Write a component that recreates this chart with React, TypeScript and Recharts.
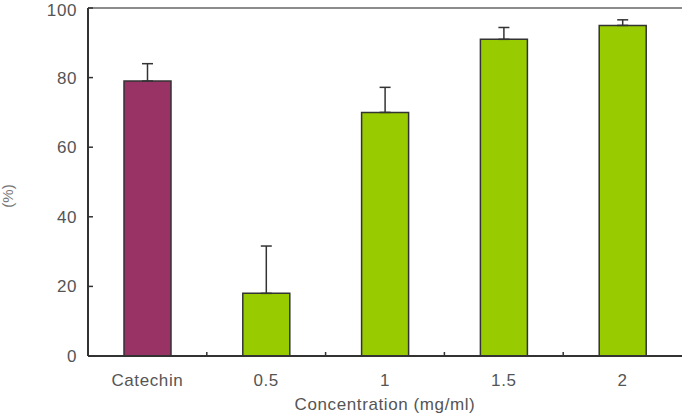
import React from 'react';
import {
  BarChart,
  Bar,
  Cell,
  XAxis,
  YAxis,
  ErrorBar,
  ReferenceLine,
} from 'recharts';

const categories = ['Catechin', '0.5', '1', '1.5', '2'];
const activity = [79, 18, 70, 91, 95];
const stdDev = [5, 13.6, 7.2, 3.4, 1.6];
const yTicks = [0, 20, 40, 60, 80, 100];

const PURPLE = '#993366';
const GREEN = '#99CC00';
const FONT = '"Liberation Sans", Arial, sans-serif';
const TEXT_COLOR = '#555';

const data = categories.map((name, i) => ({
  name,
  value: activity[i],
  // upward-only error bar
  err: [0, stdDev[i]],
}));

const tickStyle = { fontSize: 17, fill: TEXT_COLOR, fontFamily: FONT, letterSpacing: 0.6 };

// category label plus a short inward tick on the band boundary to its right
const CategoryTick = (props: any) => {
  const { x, y, payload, index } = props;
  const bx = x + (payload.offset || 0);
  return (
    <g>
      {index < categories.length - 1 && (
        <line x1={bx} y1={y - 18} x2={bx} y2={y - 22} stroke="#333" strokeWidth={1.5} />
      )}
      <text
        x={x}
        y={y}
        dy="0.71em"
        textAnchor="middle"
        fontSize={17}
        fill={TEXT_COLOR}
        fontFamily={FONT}
        letterSpacing={0.6}
      >
        {payload.value}
      </text>
    </g>
  );
};

const App: React.FC = () => {
  return (
    <div style={{ position: 'absolute', left: 0, top: 0, width: 686, height: 415, background: '#fff' }}>
      <BarChart
        width={686}
        height={415}
        data={data}
        margin={{ top: 8, right: 4, bottom: 0, left: 0 }}
      >
        <XAxis
          dataKey="name"
          height={59}
          axisLine={{ stroke: '#333', strokeWidth: 2 }}
          tickLine={false}
          tickSize={0}
          tickMargin={18}
          tick={<CategoryTick />}
          label={(props: any) => {
            const vb = props.viewBox;
            return (
              <text
                x={vb.x + vb.width / 2}
                y={410}
                textAnchor="middle"
                fontSize={17}
                fill={TEXT_COLOR}
                fontFamily={FONT}
                letterSpacing={0.6}
              >
                Concentration (mg/ml)
              </text>
            );
          }}
        />
        <YAxis
          width={88}
          domain={[0, 100]}
          ticks={yTicks}
          axisLine={{ stroke: '#333', strokeWidth: 2 }}
          tickLine={{ stroke: '#333', strokeWidth: 1.5 }}
          tickSize={-5}
          tickMargin={16}
          tick={tickStyle}
          label={() => (
            <text
              x={13}
              y={196}
              transform="rotate(-90, 13, 196)"
              textAnchor="middle"
              fontSize={15}
              fill="#777"
              fontFamily={FONT}
            >
              (%)
            </text>
          )}
        />
        <YAxis
          yAxisId="right"
          orientation="right"
          width={0}
          domain={[0, 100]}
          tick={false}
          tickLine={false}
          axisLine={{ stroke: '#888', strokeWidth: 1.5 }}
        />
        <ReferenceLine y={100} stroke="#666" strokeWidth={1.5} />
        <Bar dataKey="value" barSize={47} stroke="#333" strokeWidth={1.5} isAnimationActive={false}>
          {data.map((entry, index) => (
            <Cell key={`cell-${index}`} fill={index === 0 ? PURPLE : GREEN} />
          ))}
          <ErrorBar dataKey="err" direction="y" width={5.5} stroke="#333" strokeWidth={1.5} />
        </Bar>
      </BarChart>
    </div>
  );
};

export default App;
